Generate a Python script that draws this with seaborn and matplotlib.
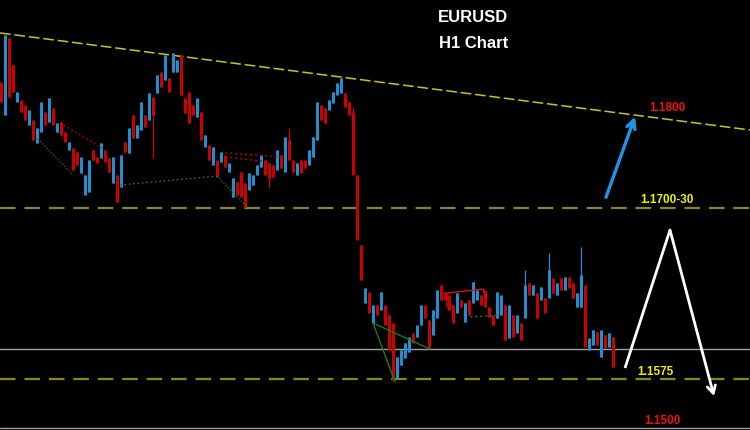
import numpy as np
import pandas as pd
import matplotlib
matplotlib.use("Agg")
import matplotlib.pyplot as plt
import seaborn as sns

# ---------------- data (EURUSD H1) ----------------
open_ = [1.17921, 1.17679, 1.18242, 1.18045, 1.17774, 1.17789, 1.17752, 1.17606, 1.17643, 1.17475,
         1.17555, 1.17701, 1.17628, 1.17731, 1.17555, 1.17628, 1.17555, 1.17423, 1.17438, 1.17409,
         1.17255, 1.17095, 1.17116, 1.17423, 1.17372, 1.17365, 1.17423, 1.17365, 1.17182, 1.17241,
         1.17153, 1.17482, 1.17402, 1.17679, 1.17511, 1.17570, 1.17679, 1.17643, 1.17811, 1.17840,
         1.17994, 1.17935, 1.17950, 1.17994, 1.17994, 1.18118, 1.17804, 1.17847, 1.17752, 1.17665,
         1.17701, 1.17445, 1.17460, 1.17314, 1.17350, 1.17336, 1.17387, 1.17263, 1.17080, 1.17190,
         1.17263, 1.17182, 1.17131, 1.17168, 1.17241, 1.17299, 1.17350, 1.17328, 1.17314, 1.17277,
         1.17387, 1.17263, 1.17497, 1.17350, 1.17241, 1.17350, 1.17350, 1.17314, 1.17372, 1.17497,
         1.17752, 1.17731, 1.17716, 1.17767, 1.17826, 1.17840, 1.17840, 1.17774, 1.17701, 1.17241,
         1.16729, 1.16305, 1.16385, 1.16159, 1.16290, 1.16254, 1.16290, 1.16217, 1.16159, 1.15757,
         1.15852, 1.15903, 1.15947, 1.16086, 1.16057, 1.16144, 1.16290, 1.16181, 1.16071, 1.16195,
         1.16437, 1.16385, 1.16364, 1.16290, 1.16232, 1.16327, 1.16166, 1.16327, 1.16305, 1.16327,
         1.16364, 1.16400, 1.16276, 1.16217, 1.16195, 1.16217, 1.16290, 1.16049, 1.16217, 1.16086,
         1.16159, 1.16195, 1.16451, 1.16364, 1.16378, 1.16327, 1.16342, 1.16342, 1.16488, 1.16364,
         1.16488, 1.16400, 1.16495, 1.16451, 1.16276, 1.16276, 1.16437, 1.15961, 1.15998, 1.16093,
         1.15910, 1.16071, 1.15983, 1.16057]
close = [1.17774, 1.18264, 1.17811, 1.17847, 1.17847, 1.17701, 1.17643, 1.17716, 1.17497, 1.17584,
         1.17774, 1.17606, 1.17804, 1.17606, 1.17621, 1.17533, 1.17482, 1.17482, 1.17277, 1.17314,
         1.17372, 1.17241, 1.17350, 1.17350, 1.17328, 1.17475, 1.17336, 1.17263, 1.17372, 1.17043,
         1.17387, 1.17409, 1.17584, 1.17511, 1.17606, 1.17774, 1.17592, 1.17840, 1.17679, 1.17972,
         1.17884, 1.18118, 1.17847, 1.18133, 1.18081, 1.17826, 1.17694, 1.17621, 1.17679, 1.17804,
         1.17497, 1.17533, 1.17350, 1.17445, 1.17226, 1.17409, 1.17299, 1.17328, 1.17219, 1.17095,
         1.17080, 1.17007, 1.17255, 1.17241, 1.17314, 1.17387, 1.17241, 1.17219, 1.17226, 1.17423,
         1.17292, 1.17519, 1.17350, 1.17263, 1.17328, 1.17255, 1.17292, 1.17423, 1.17519, 1.17774,
         1.17643, 1.17621, 1.17789, 1.17847, 1.17913, 1.17950, 1.17738, 1.17679, 1.17241, 1.16766,
         1.16473, 1.16415, 1.16232, 1.16290, 1.16217, 1.16385, 1.16144, 1.15961, 1.15742, 1.15910,
         1.15961, 1.16013, 1.16057, 1.16013, 1.16144, 1.16290, 1.16195, 1.15976, 1.16254, 1.16400,
         1.16327, 1.16327, 1.16254, 1.16159, 1.16378, 1.16276, 1.16305, 1.16217, 1.16459, 1.16400,
         1.16290, 1.16276, 1.16203, 1.16144, 1.16385, 1.16364, 1.16035, 1.16290, 1.16057, 1.16217,
         1.16035, 1.16437, 1.16364, 1.16437, 1.16195, 1.16422, 1.16232, 1.16546, 1.16378, 1.16451,
         1.16400, 1.16495, 1.16415, 1.16342, 1.16378, 1.16510, 1.15983, 1.16049, 1.16108, 1.15998,
         1.16108, 1.15976, 1.16086, 1.15837]
# candles whose wick reaches beyond the body
wick_idx = [38, 67, 72, 88, 131, 137, 145]
wick_high = [None, None, 1.17584, 1.17738, 1.16546, 1.16671, 1.16714]
wick_low = [1.17365, 1.17146, None, None, None, None, None]

levels = [1.1700, 1.1575]          # dashed support / resistance
level_text = ["1.1700-30", "1.1575"]
grey_levels = [1.15969, 1.15392]
trend_x = [-0.25, 187.25]
trend_y = [1.18279, 1.17570]

# ---------------- figure ----------------
sns.set_theme(style="dark")
plt.rcParams["font.family"] = ["Liberation Sans", "DejaVu Sans"]
fig = plt.figure(figsize=(7.5, 4.3), dpi=100, facecolor="black")
ax = fig.add_axes([0, 0, 1, 1])
ax.set_facecolor("black")
ax.set_xlim(-0.25, 187.25)
ax.set_ylim(1.15377, 1.18520)
ax.set_xticks([]); ax.set_yticks([])
ax.grid(False)
for s in ax.spines.values():
    s.set_visible(False)

df = pd.DataFrame({"open": open_, "close": close})
df["i"] = np.arange(len(df))
df["body_hi"] = df[["open", "close"]].max(axis=1)
df["body_lo"] = df[["open", "close"]].min(axis=1)
df["high"] = df["body_hi"]
df["low"] = df["body_lo"]
for k, h, l in zip(wick_idx, wick_high, wick_low):
    if h is not None:
        df.loc[k, "high"] = h
    if l is not None:
        df.loc[k, "low"] = l
up = df["close"] >= df["open"]
BLUE, RED = "#1f8fcf", "#cc0000"
colors = np.where(up, BLUE, RED)

# horizontal levels
for lv in levels:
    ax.axhline(lv, color="#8a8a12", lw=1.6, dashes=(7, 4), zorder=1)
for gl in grey_levels:
    ax.axhline(gl, color="#a0a0a8", lw=1.0, zorder=1)

# trend line
sns.lineplot(x=trend_x, y=trend_y, ax=ax, color="#c8c814", lw=1.1,
             legend=False, zorder=2)
ax.lines[-1].set_dashes((7, 2.5))

# candles
ax.vlines(df["i"], df["low"], df["high"], colors=colors, lw=0.9, zorder=3)
ax.vlines(df["i"], df["body_lo"], df["body_hi"], colors=colors, lw=2.2, zorder=3)

# pattern lines (zigzag helpers)
GD, RD = "#1f7a1f", "#c00000"
pat = [
    ([9.25, 18.0], [1.17504, 1.17241], GD, (1, 1.5)),
    ([14.75, 25.25], [1.17621, 1.17438], RD, (1.5, 2)),
    ([29.75, 54.0], [1.17168, 1.17233], GD, (1.5, 2)),
    ([54.0, 61.5], [1.17233, 1.17007], GD, (1, 1.5)),
    ([56.0, 70.5], [1.17402, 1.17372], RD, (2, 2)),
    ([56.0, 65.25], [1.17372, 1.17343], RD, (2, 2)),
    ([117.25, 124.75], [1.16203, 1.16217], GD, (2, 2)),
]
for xs, ys, c, d in pat:
    ax.plot(xs, ys, color=c, lw=0.9, dashes=d, zorder=4)
ax.plot([98.5, 93.0, 107.25], [1.15728, 1.16159, 1.15969], color="#1f7a1f", lw=1.0, zorder=4)
ax.plot([111.5, 111.5, 120.5, 121.25], [1.16276, 1.16378, 1.16407, 1.16342],
        color="#dd1111", lw=1.0, zorder=4)

# texts
def fx(px): return px / 750.0
def fy(py): return 1 - py / 430.0

ax.text(fx(473), fy(18), "EURUSD", color="white", fontsize=12, fontweight="bold",
        ha="center", va="center", transform=ax.transAxes)
ax.text(fx(474), fy(43), "H1 Chart", color="white", fontsize=12, fontweight="bold",
        ha="center", va="center", transform=ax.transAxes)
ax.text(fx(667), fy(108), "1.1800", color="#ee1111", fontsize=8.5, fontweight="bold",
        ha="center", va="center", transform=ax.transAxes)
ax.text(fx(667), fy(200), level_text[0], color="#f0f000", fontsize=8.5, fontweight="bold",
        ha="center", va="center", transform=ax.transAxes)
ax.text(fx(655), fy(372), level_text[1], color="#f0f000", fontsize=8.5, fontweight="bold",
        ha="center", va="center", transform=ax.transAxes)
ax.text(fx(662), fy(421), "1.1500", color="#ee1111", fontsize=8.5, fontweight="bold",
        ha="center", va="center", transform=ax.transAxes)

# arrows
ax.annotate("", xy=(fx(636), fy(114)), xytext=(fx(605), fy(200)),
            xycoords="axes fraction", textcoords="axes fraction",
            arrowprops=dict(arrowstyle="->,head_length=0.5,head_width=0.25",
                            color="#1e96e6", lw=2.4))
ax.plot([fx(625), fx(670)], [fy(368), fy(230)], color="white", lw=2.0,
        transform=ax.transAxes, solid_capstyle="butt")
ax.annotate("", xy=(fx(714), fy(396)), xytext=(fx(670), fy(230)),
            xycoords="axes fraction", textcoords="axes fraction",
            arrowprops=dict(arrowstyle="->,head_length=0.45,head_width=0.25",
                            color="white", lw=2.0, shrinkA=0, shrinkB=0))

fig.savefig("out.png", dpi=100, facecolor="black")
